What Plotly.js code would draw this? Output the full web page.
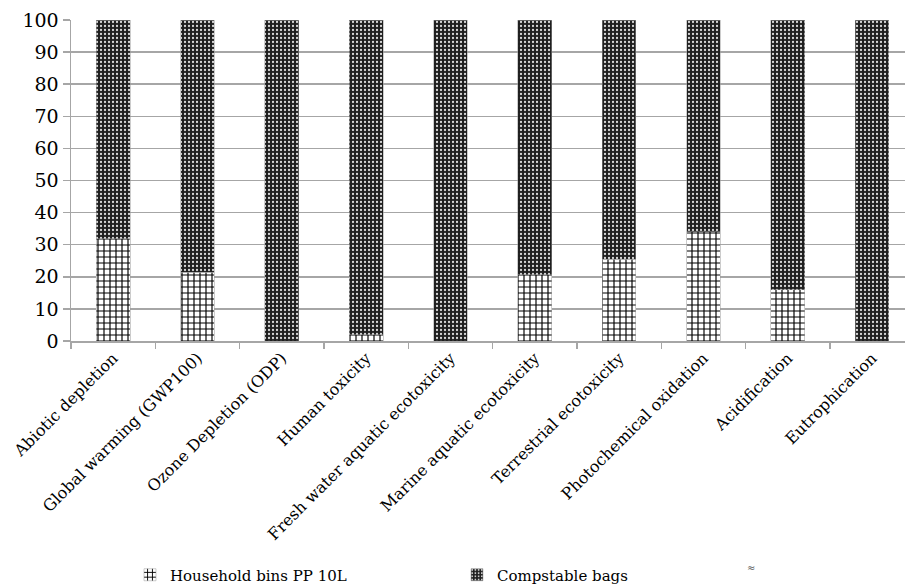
<!DOCTYPE html>
<html>
<head>
<meta charset="utf-8">
<script src="https://cdn.plot.ly/plotly-3.0.1.min.js"></script>
<style>
  html, body { margin: 0; padding: 0; background: #fff; }
  #chart { width: 905px; height: 587px; }
</style>
</head>
<body>
<div id="chart"></div>
<script>
// Impact categories along the x axis
const categories = [
  "Abiotic depletion",
  "Global warming (GWP100)",
  "Ozone Depletion (ODP)",
  "Human toxicity",
  "Fresh water aquatic ecotoxicity",
  "Marine aquatic ecotoxicity",
  "Terrestrial ecotoxicity",
  "Photochemical oxidation",
  "Acidification",
  "Eutrophication"
];

// Relative contribution (%) of each option per impact category
const householdBins = [31.8, 21.4, 0, 1.9, 0, 20.6, 25.5, 34.1, 15.9, 0];
const compostableBags = [68.2, 78.6, 100, 98.1, 100, 79.4, 74.5, 65.9, 84.1, 100];

const seriesNames = ["Household bins PP 10L", "Compstable bags"];
const yTicks = [0, 10, 20, 30, 40, 50, 60, 70, 80, 90, 100];

const serif = "DejaVu Serif";

const traces = [
  {
    type: "bar",
    name: seriesNames[0],
    x: categories,
    y: householdBins,
    width: 0.4,
    marker: {
      color: "#ffffff",
      line: { color: "#9a9a9a", width: 0.5 },
      pattern: { shape: "+", fgcolor: "#000000", bgcolor: "#ffffff", size: 6, solidity: 0.35 }
    },
    hoverinfo: "x+y"
  },
  {
    type: "bar",
    name: seriesNames[1],
    x: categories,
    y: compostableBags,
    width: 0.4,
    marker: {
      color: "#1e1e1e",
      line: { color: "#9a9a9a", width: 0.5 },
      pattern: { shape: ".", fgcolor: "#d8d8d8", bgcolor: "#1e1e1e", size: 4, solidity: 0.25 }
    },
    hoverinfo: "x+y"
  }
];

const layout = {
  width: 905,
  height: 587,
  barmode: "stack",
  paper_bgcolor: "#ffffff",
  plot_bgcolor: "#ffffff",
  margin: { l: 71, r: 0, t: 20, b: 246, autoexpand: false },
  font: { family: serif, color: "#000000", size: 15 },
  showlegend: true,
  legend: {
    orientation: "h",
    xref: "container",
    yref: "container",
    x: 130 / 905,
    xanchor: "left",
    y: 1 - 575 / 587,
    yanchor: "middle",
    entrywidth: 282,
    entrywidthmode: "pixels",
    itemwidth: 30,
    font: { family: serif, size: 15, color: "#000000" },
    traceorder: "normal"
  },
  xaxis: {
    type: "category",
    range: [-0.5, 9.39],
    tickangle: -45,
    tickfont: { family: serif, size: 16, color: "#000000" },
    showline: true,
    linecolor: "#a6a6a6",
    linewidth: 1.5,
    ticks: "outside",
    tickson: "boundaries",
    ticklen: 6,
    tickcolor: "#a6a6a6",
    tickwidth: 1.5,
    showgrid: false,
    zeroline: false,
    fixedrange: true
  },
  yaxis: {
    range: [0, 100],
    tickvals: yTicks,
    ticktext: yTicks.map(String),
    tickfont: { family: serif, size: 19, color: "#000000" },
    showline: true,
    linecolor: "#a6a6a6",
    linewidth: 1.5,
    ticks: "outside",
    ticklen: 7,
    tickcolor: "#a6a6a6",
    tickwidth: 1.5,
    showgrid: true,
    gridcolor: "#a6a6a6",
    gridwidth: 1.5,
    zeroline: false,
    fixedrange: true
  },
  annotations: [
    {
      text: "≈",
      xref: "paper", yref: "paper",
      x: (757 - 71) / 834, y: -0.73,
      showarrow: false,
      font: { family: serif, size: 10, color: "#555555" }
    }
  ]
};

Plotly.newPlot("chart", traces, layout, { displayModeBar: false, staticPlot: true });
</script>
</body>
</html>
